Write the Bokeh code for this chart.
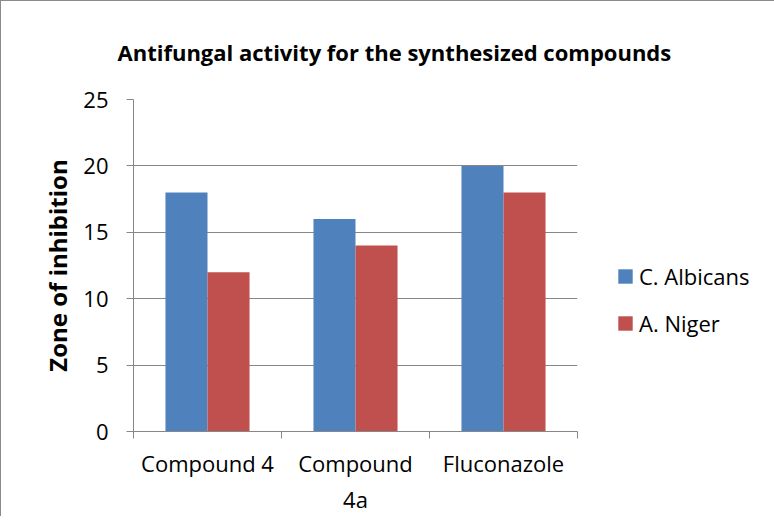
from bokeh.plotting import figure
from bokeh.models import FixedTicker, Legend, LegendItem
from bokeh.embed import file_html
from bokeh.resources import INLINE

categories = ["Compound 4", "Compound 4a", "Fluconazole"]
cat_labels = ["Compound 4", "Compound\n4a", "Fluconazole"]
c_albicans = [18, 16, 20]
a_niger = [12, 14, 18]
y_ticks = [0, 5, 10, 15, 20, 25]

FONT = "Open Sans"
GRID = "#878787"

p = figure(frame_width=444, frame_height=332, output_backend="svg", toolbar_location=None,
           x_range=(0, 3), y_range=(0, 25),
           title="Antifungal activity for the synthesized compounds",
           min_border_left=132, min_border_right=189, min_border_top=98, min_border_bottom=81)
p.styles = {"border-left": "1px solid #8a8a8a", "border-top": "1px solid #8a8a8a"}
p.outline_line_color = None
p.background_fill_color = "white"
p.border_fill_color = "white"

p.title.align = "left"
p.title.offset = -16
p.title.text_font = FONT
p.title.text_font_style = "bold"
p.title.text_font_size = "22px"
p.title.text_color = "black"
p.title.standoff = 65

centers = [i + 0.5 for i in range(len(categories))]
bw = 0.284
r1 = p.vbar(x=[c - bw / 2 for c in centers], top=c_albicans, width=bw, fill_color="#4F81BD", line_color=None)
r2 = p.vbar(x=[c + bw / 2 for c in centers], top=a_niger, width=bw, fill_color="#C0504D", line_color=None)

# axes
p.xgrid.visible = False
p.ygrid.grid_line_color = GRID
p.ygrid.ticker = FixedTicker(ticks=y_ticks)

p.yaxis.ticker = FixedTicker(ticks=y_ticks)
p.yaxis.axis_line_color = GRID
p.yaxis.major_tick_line_color = GRID
p.yaxis.major_tick_out = 7
p.yaxis.major_tick_in = 0
p.yaxis.minor_tick_line_color = None
p.yaxis.major_label_text_font = FONT
p.yaxis.major_label_text_font_size = "22px"
p.yaxis.major_label_text_color = "black"
p.yaxis.major_label_standoff = 18
p.yaxis.axis_label = "Zone of inhibition"
p.yaxis.axis_label_text_font = FONT
p.yaxis.axis_label_text_font_style = "bold"
p.yaxis.axis_label_text_font_size = "24px"
p.yaxis.axis_label_text_color = "black"
p.yaxis.axis_label_standoff = 6

p.xaxis.ticker = FixedTicker(ticks=centers, minor_ticks=[0, 1, 2, 3])
p.xaxis.major_label_overrides = {c: l for c, l in zip(centers, cat_labels)}
p.xaxis.axis_line_color = GRID
p.xaxis.major_tick_line_color = None
p.xaxis.major_tick_out = 0
p.xaxis.minor_tick_line_color = GRID
p.xaxis.minor_tick_out = 7
p.xaxis.minor_tick_in = 0
p.xaxis.major_label_text_font = FONT
p.xaxis.major_label_text_font_size = "22px"
p.xaxis.major_label_text_color = "black"
p.xaxis.major_label_standoff = 9

legend = Legend(items=[LegendItem(label="C. Albicans", renderers=[r1]),
                       LegendItem(label="A. Niger", renderers=[r2])],
                location=(39, 93), background_fill_alpha=0, border_line_color=None,
                glyph_width=18, glyph_height=18, label_text_font=FONT,
                label_text_font_size="22px", label_text_color="black",
                spacing=17, padding=0, margin=0, label_standoff=5)
p.add_layout(legend, "right")

open("out.html", "w").write(file_html(p, INLINE))
